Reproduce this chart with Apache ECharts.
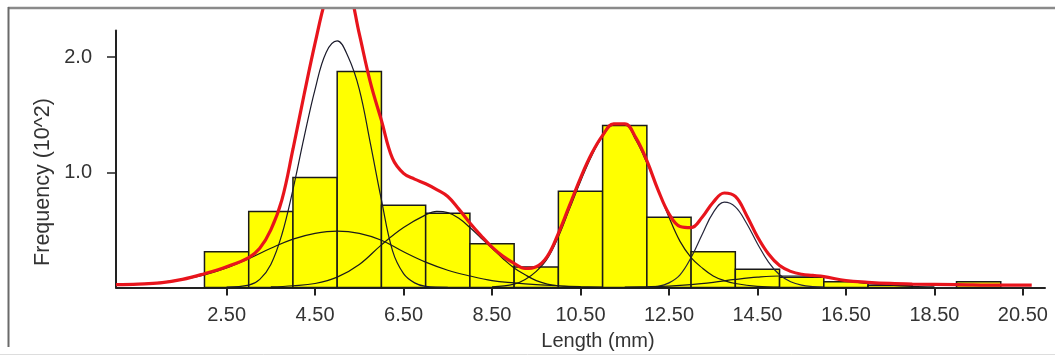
<!DOCTYPE html>
<html>
<head>
<meta charset="utf-8">
<script src="https://cdn.jsdelivr.net/npm/echarts@6.0.0/dist/echarts.min.js"></script>
<style>
  html, body { margin: 0; padding: 0; background: #fff; }
  #chart { width: 1055px; height: 356px; }
</style>
</head>
<body>
<div id="chart"></div>
<script>
// ---- Data ----
const xTickValues = [2.5, 4.5, 6.5, 8.5, 10.5, 12.5, 14.5, 16.5, 18.5, 20.5];
const yTickValues = [1, 2];

const binStarts = [2, 3, 4, 5, 6, 7, 8, 9, 10, 11, 12, 13, 14, 15, 16, 17, 19];
const binCounts = [0.31, 0.66, 0.955, 1.875, 0.713, 0.645, 0.38, 0.178, 0.836, 1.405, 0.61, 0.31, 0.158, 0.09, 0.05, 0.02, 0.05];
const binWidth = 1;

const totalCurve = [[0,0.025],[0.5,0.03],[1,0.04],[1.5,0.07],[2,0.12],[2.5,0.18],[3,0.26],[3.25,0.34],[3.5,0.5],[3.75,0.76],[4,1.2],[4.25,1.67],[4.5,2.12],[4.75,2.52],[5,2.78],[5.25,2.62],[5.5,2.2],[5.75,1.78],[6,1.45],[6.25,1.12],[6.5,0.99],[6.75,0.94],[7,0.9],[7.25,0.85],[7.5,0.79],[7.75,0.68],[8,0.56],[8.25,0.45],[8.5,0.35],[8.75,0.27],[9,0.21],[9.25,0.165],[9.5,0.18],[9.75,0.27],[10,0.47],[10.25,0.71],[10.5,0.95],[10.75,1.16],[11,1.32],[11.25,1.42],[11.5,1.42],[11.75,1.3],[12,1.1],[12.25,0.85],[12.5,0.64],[12.75,0.53],[13,0.52],[13.25,0.61],[13.5,0.74],[13.75,0.82],[14,0.79],[14.25,0.63],[14.5,0.44],[14.75,0.29],[15,0.19],[15.25,0.14],[15.5,0.115],[15.75,0.105],[16,0.095],[16.5,0.06],[17,0.045],[17.5,0.035],[18,0.03],[19,0.025],[20,0.02],[20.7,0.02]];

const comp1 = [[2.5,0.003],[3,0.02],[3.25,0.07],[3.5,0.2],[3.75,0.46],[4,0.85],[4.25,1.3],[4.5,1.72],[4.75,2.04],[5,2.14],[5.25,2.0],[5.5,1.72],[5.75,1.25],[6,0.76],[6.25,0.32],[6.5,0.12],[6.75,0.04],[7,0.01],[7.5,0.002]];
const comp2 = [[0,0.02],[0.5,0.03],[1,0.045],[1.5,0.07],[2,0.11],[2.5,0.17],[3,0.25],[3.5,0.34],[4,0.42],[4.5,0.47],[5,0.49],[5.5,0.47],[6,0.41],[6.5,0.31],[7,0.22],[7.5,0.15],[8,0.1],[8.5,0.06],[9,0.04],[9.5,0.025],[10,0.015],[10.5,0.008],[11,0.004]];
const comp3 = [[3.5,0.005],[4,0.015],[4.5,0.035],[5,0.09],[5.5,0.2],[6,0.37],[6.5,0.52],[7,0.63],[7.25,0.66],[7.5,0.65],[7.75,0.6],[8,0.52],[8.25,0.43],[8.5,0.34],[8.75,0.25],[9,0.17],[9.25,0.11],[9.5,0.06],[9.75,0.03],[10,0.015],[10.5,0.004]];
const comp4 = [[8.5,0.005],[9,0.03],[9.25,0.07],[9.5,0.14],[9.75,0.25],[10,0.44],[10.25,0.68],[10.5,0.92],[10.75,1.14],[11,1.31],[11.25,1.41],[11.5,1.41],[11.75,1.28],[12,1.08],[12.25,0.85],[12.5,0.61],[12.75,0.4],[13,0.26],[13.25,0.17],[13.5,0.1],[13.75,0.06],[14,0.035],[14.5,0.01],[15,0.003]];
const comp5 = [[12,0.003],[12.25,0.01],[12.5,0.04],[12.75,0.11],[13,0.26],[13.25,0.46],[13.5,0.65],[13.75,0.74],[14,0.7],[14.25,0.56],[14.5,0.38],[14.75,0.22],[15,0.11],[15.25,0.05],[15.5,0.02],[15.75,0.008],[16,0.003]];
const comp6 = [[11.5,0.003],[12,0.006],[12.5,0.012],[13,0.025],[13.5,0.045],[14,0.07],[14.5,0.09],[15,0.1],[15.5,0.1],[16,0.09],[16.5,0.06],[17,0.035],[17.5,0.02],[18,0.01],[18.5,0.005]];

const xTitle = 'Length (mm)';
const yTitle = 'Frequency (10^2)';

// ---- Chart ----
const FONT = '"Liberation Sans", Arial, sans-serif';
const chart = echarts.init(document.getElementById('chart'), null, { renderer: 'canvas' });

function compSeries(data, color) {
  return {
    type: 'line', data: data, smooth: 0.4, showSymbol: false, symbol: 'none',
    lineStyle: { color: color, width: 1.2 }, z: 3, silent: true
  };
}

const option = {
  animation: false,
  backgroundColor: '#ffffff',
  grid: { left: 116, top: 30.5, width: 929, height: 257, containLabel: false, outerBoundsMode: 'none' },
  xAxis: {
    type: 'value', min: 0, max: 21,
    splitLine: { show: false },
    axisLine: { show: true, onZero: false, lineStyle: { color: '#222', width: 2 } },
    axisTick: { show: true, customValues: xTickValues, length: 8, lineStyle: { color: '#222', width: 2 } },
    axisLabel: { customValues: xTickValues, formatter: v => v.toFixed(2), fontSize: 20, color: '#333', fontFamily: FONT, margin: 18 }
  },
  yAxis: {
    type: 'value', min: 0, max: 2.23,
    splitLine: { show: false },
    axisLine: { show: true, onZero: false, lineStyle: { color: '#222', width: 2 } },
    axisTick: { show: true, customValues: yTickValues, length: 9, lineStyle: { color: '#222', width: 1.5 } },
    axisLabel: { customValues: yTickValues, formatter: v => v.toFixed(1), fontSize: 20, color: '#333', fontFamily: FONT, margin: 24 }
  },
  series: [
    {
      type: 'custom', z: 2, silent: true,
      data: binStarts.map((s, i) => [s, binCounts[i]]),
      renderItem: function (params, api) {
        const x0 = api.value(0), h = api.value(1);
        const p0 = api.coord([x0, h]);
        const p1 = api.coord([x0 + binWidth, 0]);
        return {
          type: 'rect',
          shape: { x: p0[0], y: p0[1], width: p1[0] - p0[0], height: p1[1] - p0[1] },
          style: { fill: '#ffff00', stroke: '#1a1a1a', lineWidth: 1.5 }
        };
      }
    },
    compSeries(comp2, '#1a1a1a'),
    compSeries(comp3, '#1a1a1a'),
    compSeries(comp1, '#1a1a2a'),
    compSeries(comp4, '#1a1a1a'),
    compSeries(comp5, '#25253a'),
    compSeries(comp6, '#1a1a1a'),
    {
      type: 'line', data: totalCurve, smooth: 0.4, showSymbol: false, symbol: 'none', clip: false,
      lineStyle: { color: '#e8141c', width: 3.2 }, z: 5, silent: true
    }
  ],
  graphic: [
    { type: 'rect', z: 100, shape: { x: 0, y: 0, width: 1055, height: 7 }, style: { fill: '#ffffff' } },
    { type: 'line', z: 101, shape: { x1: 8, y1: 8, x2: 1055, y2: 8 }, style: { stroke: '#8a8a8a', lineWidth: 2.5 } },
    { type: 'line', z: 101, shape: { x1: 8.5, y1: 7, x2: 8.5, y2: 347 }, style: { stroke: '#6a6a6a', lineWidth: 2 } },
    { type: 'line', z: 101, shape: { x1: 0, y1: 354.5, x2: 1055, y2: 354.5 }, style: { stroke: '#dddddd', lineWidth: 1 } },
    { type: 'text', z: 101, x: 43, y: 182, rotation: Math.PI / 2,
      style: { text: yTitle, fontSize: 21.5, fontFamily: FONT, fill: '#333', textAlign: 'center', textVerticalAlign: 'middle' } },
    { type: 'text', z: 101, x: 598, y: 341,
      style: { text: xTitle, fontSize: 20, fontFamily: FONT, fill: '#333', textAlign: 'center', textVerticalAlign: 'middle' } }
  ]
};
chart.setOption(option);
</script>
</body>
</html>
